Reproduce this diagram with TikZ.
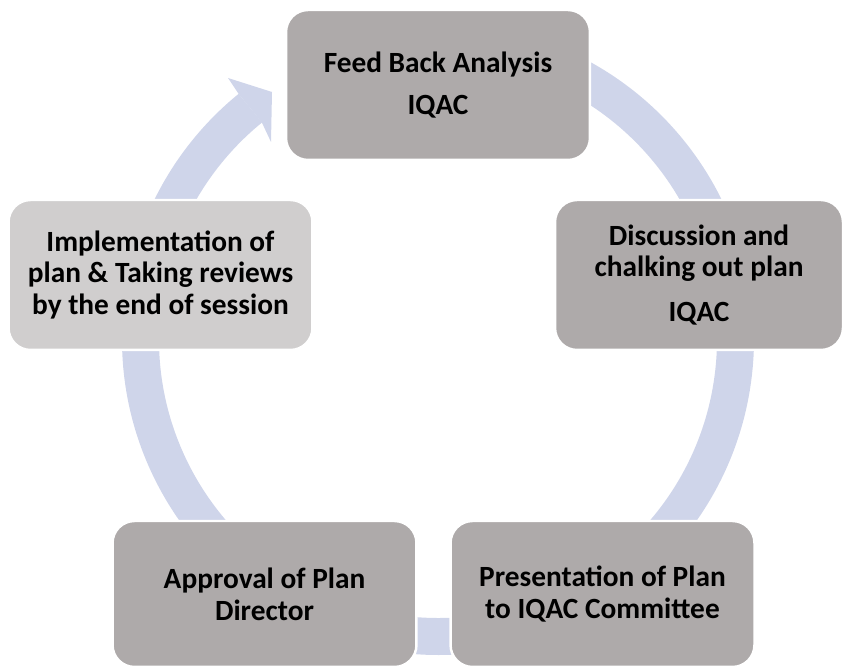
\documentclass[tikz,border=0pt]{standalone}
\usepackage{fontspec}
\setmainfont{Carlito}
\usetikzlibrary{calc}
\definecolor{boxgray}{HTML}{AEAAAA}
\definecolor{boxlight}{HTML}{D0CECE}
\definecolor{ringblue}{HTML}{CFD5EA}
\tikzstyle{stage} = [draw=white, line width=1.4pt, fill=boxgray, rounded corners=0.44cm, minimum width=6.08cm, minimum height=3cm, align=center, inner sep=0pt, font=\fontsize{16.7}{18.1}\selectfont\bfseries]
\tikzstyle{ring} = [draw=ringblue, line width=0.74cm]

\begin{document}
\begin{tikzpicture}[x=0.02cm, y=0.02cm]
    \useasboundingbox (0,0) rectangle (845,668);
    \coordinate (c) at (438,329);
    \draw[ring] (c) ++(85:297.5) arc[start angle=85, end angle=-230.9, radius=297.5];
    \fill[ringblue] (238.6,574.1) -- (228,590) -- (272,576) -- (271,526) -- (261.9,545.4) -- cycle;
    \draw (438,583) node[stage] (fb) {Feed Back Analysis\\[6pt] IQAC};
    \draw (699,393) node[stage, minimum width=5.76cm] (disc) {Discussion and\\ chalking out plan\\[7.5pt] IQAC};
    \draw (602.5,74) node[stage, minimum height=2.92cm] (pres) {Presentation of Plan\\ to IQAC Committee};
    \draw (264.5,74) node[stage, minimum height=2.92cm] (appr) {Approval of Plan\\ Director};
    \draw (160.5,393) node[stage, fill=boxlight] (impl) {Implementation of\\ plan \& Taking reviews\\ by the end of session};
\end{tikzpicture}
\end{document}
